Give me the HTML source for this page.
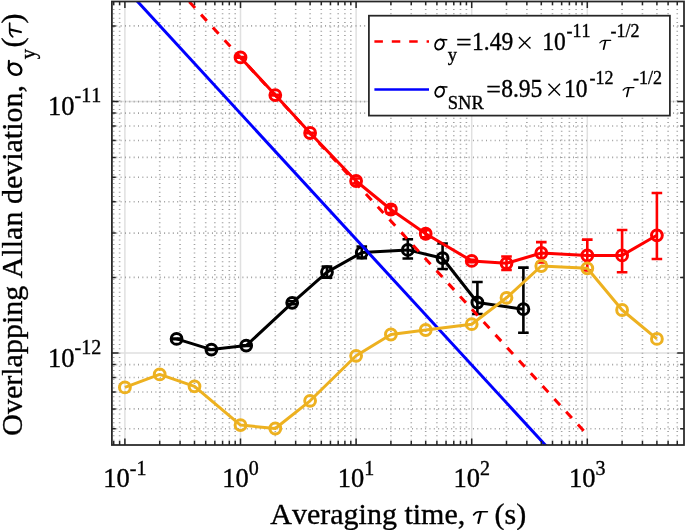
<!DOCTYPE html><html><head><meta charset="utf-8"><style>html,body{margin:0;padding:0;background:#fff;overflow:hidden}svg{display:block;will-change:transform}text{font-family:"Liberation Serif",serif;fill:#000;font-kerning:none;stroke:#000;stroke-width:0.35px}</style></head><body>
<svg width="685" height="530" viewBox="0 0 685 530">
<rect x="0" y="0" width="685" height="530" fill="#fff"/>
<g>
<defs><clipPath id="c"><rect x="111.9" y="1.5" width="572.1" height="443.5"/></clipPath></defs>
<path d="M124.90 1.5V445.0M240.50 1.5V445.0M356.10 1.5V445.0M471.70 1.5V445.0M587.30 1.5V445.0M111.9 101.60H684.0M111.9 353.10H684.0" stroke="#e0e0e0" stroke-width="1.5" fill="none"/>
<path d="M113.70 445.0V1.5M119.61 445.0V1.5M159.70 445.0V1.5M180.06 445.0V1.5M194.50 445.0V1.5M205.70 445.0V1.5M214.85 445.0V1.5M222.59 445.0V1.5M229.30 445.0V1.5M235.21 445.0V1.5M275.30 445.0V1.5M295.66 445.0V1.5M310.10 445.0V1.5M321.30 445.0V1.5M330.45 445.0V1.5M338.19 445.0V1.5M344.90 445.0V1.5M350.81 445.0V1.5M390.90 445.0V1.5M411.26 445.0V1.5M425.70 445.0V1.5M436.90 445.0V1.5M446.05 445.0V1.5M453.79 445.0V1.5M460.50 445.0V1.5M466.41 445.0V1.5M506.50 445.0V1.5M526.86 445.0V1.5M541.30 445.0V1.5M552.50 445.0V1.5M561.65 445.0V1.5M569.39 445.0V1.5M576.10 445.0V1.5M582.01 445.0V1.5M622.10 445.0V1.5M642.46 445.0V1.5M656.90 445.0V1.5M668.10 445.0V1.5M677.25 445.0V1.5" stroke="#a0a0a0" stroke-width="1.6" stroke-dasharray="1 3.35" fill="none"/>
<path d="M111.9 428.81H684.0M111.9 408.89H684.0M111.9 392.06H684.0M111.9 377.47H684.0M111.9 364.61H684.0M111.9 277.39H684.0M111.9 233.10H684.0M111.9 201.68H684.0M111.9 177.31H684.0M111.9 157.39H684.0M111.9 140.56H684.0M111.9 125.97H684.0M111.9 113.11H684.0M111.9 25.89H684.0M111.9 101.60H684.0" stroke="#a0a0a0" stroke-width="1.6" stroke-dasharray="1 3.35" fill="none"/>
<g clip-path="url(#c)">
<path d="M176.59 338.90 L211.39 349.60 L246.19 345.60 L292.19 302.80 L326.99 272.10 L361.79 252.60 L407.79 249.90 L442.59 258.20 L477.39 302.50 L523.39 309.20" stroke="#000000" stroke-width="3.0" fill="none" stroke-linejoin="round"/><path d="M176.59 338.60V339.20M171.29 338.60H181.89M171.29 339.20H181.89M211.39 349.30V349.90M206.09 349.30H216.69M206.09 349.90H216.69M246.19 345.30V345.90M240.89 345.30H251.49M240.89 345.90H251.49M292.19 301.30V304.30M286.89 301.30H297.49M286.89 304.30H297.49M326.99 266.60V277.60M321.69 266.60H332.29M321.69 277.60H332.29M361.79 246.50V258.30M356.49 246.50H367.09M356.49 258.30H367.09M407.79 239.20V258.50M402.49 239.20H413.09M402.49 258.50H413.09M442.59 243.50V269.00M437.29 243.50H447.89M437.29 269.00H447.89M477.39 282.00V314.00M472.09 282.00H482.69M472.09 314.00H482.69M523.39 267.60V332.70M518.09 267.60H528.69M518.09 332.70H528.69" stroke="#000000" stroke-width="2.6" fill="none"/><circle cx="176.59" cy="338.90" r="5.4" stroke="#000000" stroke-width="3.0" fill="none"/><circle cx="211.39" cy="349.60" r="5.4" stroke="#000000" stroke-width="3.0" fill="none"/><circle cx="246.19" cy="345.60" r="5.4" stroke="#000000" stroke-width="3.0" fill="none"/><circle cx="292.19" cy="302.80" r="5.4" stroke="#000000" stroke-width="3.0" fill="none"/><circle cx="326.99" cy="272.10" r="5.4" stroke="#000000" stroke-width="3.0" fill="none"/><circle cx="361.79" cy="252.60" r="5.4" stroke="#000000" stroke-width="3.0" fill="none"/><circle cx="407.79" cy="249.90" r="5.4" stroke="#000000" stroke-width="3.0" fill="none"/><circle cx="442.59" cy="258.20" r="5.4" stroke="#000000" stroke-width="3.0" fill="none"/><circle cx="477.39" cy="302.50" r="5.4" stroke="#000000" stroke-width="3.0" fill="none"/><circle cx="523.39" cy="309.20" r="5.4" stroke="#000000" stroke-width="3.0" fill="none"/>
<path d="M240.50 57.40 L275.30 95.10 L310.10 133.00 L356.10 181.00 L390.90 209.50 L425.70 233.75 L471.70 260.90 L506.50 263.30 L541.30 253.00 L587.30 255.50 L622.10 255.40 L656.90 235.30" stroke="#ff0000" stroke-width="3.0" fill="none" stroke-linejoin="round"/><path d="M240.50 57.10V57.70M235.20 57.10H245.80M235.20 57.70H245.80M275.30 94.80V95.40M270.00 94.80H280.60M270.00 95.40H280.60M310.10 132.70V133.30M304.80 132.70H315.40M304.80 133.30H315.40M356.10 178.50V183.50M350.80 178.50H361.40M350.80 183.50H361.40M390.90 205.90V213.10M385.60 205.90H396.20M385.60 213.10H396.20M425.70 230.25V237.25M420.40 230.25H431.00M420.40 237.25H431.00M471.70 259.70V262.10M466.40 259.70H477.00M466.40 262.10H477.00M506.50 256.50V270.00M501.20 256.50H511.80M501.20 270.00H511.80M541.30 242.10V262.50M536.00 242.10H546.60M536.00 262.50H546.60M587.30 239.60V270.50M582.00 239.60H592.60M582.00 270.50H592.60M622.10 230.00V272.30M616.80 230.00H627.40M616.80 272.30H627.40M656.90 193.00V259.00M651.60 193.00H662.20M651.60 259.00H662.20" stroke="#ff0000" stroke-width="2.6" fill="none"/><circle cx="240.50" cy="57.40" r="5.4" stroke="#ff0000" stroke-width="3.0" fill="none"/><circle cx="275.30" cy="95.10" r="5.4" stroke="#ff0000" stroke-width="3.0" fill="none"/><circle cx="310.10" cy="133.00" r="5.4" stroke="#ff0000" stroke-width="3.0" fill="none"/><circle cx="356.10" cy="181.00" r="5.4" stroke="#ff0000" stroke-width="3.0" fill="none"/><circle cx="390.90" cy="209.50" r="5.4" stroke="#ff0000" stroke-width="3.0" fill="none"/><circle cx="425.70" cy="233.75" r="5.4" stroke="#ff0000" stroke-width="3.0" fill="none"/><circle cx="471.70" cy="260.90" r="5.4" stroke="#ff0000" stroke-width="3.0" fill="none"/><circle cx="506.50" cy="263.30" r="5.4" stroke="#ff0000" stroke-width="3.0" fill="none"/><circle cx="541.30" cy="253.00" r="5.4" stroke="#ff0000" stroke-width="3.0" fill="none"/><circle cx="587.30" cy="255.50" r="5.4" stroke="#ff0000" stroke-width="3.0" fill="none"/><circle cx="622.10" cy="255.40" r="5.4" stroke="#ff0000" stroke-width="3.0" fill="none"/><circle cx="656.90" cy="235.30" r="5.4" stroke="#ff0000" stroke-width="3.0" fill="none"/>
<path d="M165.75 -23.81L587.30 434.75" stroke="#ff0000" stroke-width="3.0" stroke-dasharray="8.5 8.9" fill="none"/>
<path d="M100.00 -39.34L600.00 504.56" stroke="#0000ff" stroke-width="3.0" fill="none"/>
<path d="M124.90 387.40 L159.70 374.40 L194.50 386.30 L240.50 425.10 L275.30 428.50 L310.10 400.80 L356.10 355.80 L390.90 334.50 L425.70 330.00 L471.70 324.20 L506.50 297.80 L541.30 266.00 L587.30 268.30 L622.10 310.00 L656.90 338.90" stroke="#edb120" stroke-width="3.0" fill="none" stroke-linejoin="round"/><circle cx="124.90" cy="387.40" r="5.4" stroke="#edb120" stroke-width="3.0" fill="none"/><circle cx="159.70" cy="374.40" r="5.4" stroke="#edb120" stroke-width="3.0" fill="none"/><circle cx="194.50" cy="386.30" r="5.4" stroke="#edb120" stroke-width="3.0" fill="none"/><circle cx="240.50" cy="425.10" r="5.4" stroke="#edb120" stroke-width="3.0" fill="none"/><circle cx="275.30" cy="428.50" r="5.4" stroke="#edb120" stroke-width="3.0" fill="none"/><circle cx="310.10" cy="400.80" r="5.4" stroke="#edb120" stroke-width="3.0" fill="none"/><circle cx="356.10" cy="355.80" r="5.4" stroke="#edb120" stroke-width="3.0" fill="none"/><circle cx="390.90" cy="334.50" r="5.4" stroke="#edb120" stroke-width="3.0" fill="none"/><circle cx="425.70" cy="330.00" r="5.4" stroke="#edb120" stroke-width="3.0" fill="none"/><circle cx="471.70" cy="324.20" r="5.4" stroke="#edb120" stroke-width="3.0" fill="none"/><circle cx="506.50" cy="297.80" r="5.4" stroke="#edb120" stroke-width="3.0" fill="none"/><circle cx="541.30" cy="266.00" r="5.4" stroke="#edb120" stroke-width="3.0" fill="none"/><circle cx="587.30" cy="268.30" r="5.4" stroke="#edb120" stroke-width="3.0" fill="none"/><circle cx="622.10" cy="310.00" r="5.4" stroke="#edb120" stroke-width="3.0" fill="none"/><circle cx="656.90" cy="338.90" r="5.4" stroke="#edb120" stroke-width="3.0" fill="none"/>
</g>
<path d="M124.90 445.0V438.5M124.90 1.5V8.0M240.50 445.0V438.5M240.50 1.5V8.0M356.10 445.0V438.5M356.10 1.5V8.0M471.70 445.0V438.5M471.70 1.5V8.0M587.30 445.0V438.5M587.30 1.5V8.0M113.70 445.0V441.0M113.70 1.5V5.1M119.61 445.0V441.0M119.61 1.5V5.1M159.70 445.0V441.0M159.70 1.5V5.1M180.06 445.0V441.0M180.06 1.5V5.1M194.50 445.0V441.0M194.50 1.5V5.1M205.70 445.0V441.0M205.70 1.5V5.1M214.85 445.0V441.0M214.85 1.5V5.1M222.59 445.0V441.0M222.59 1.5V5.1M229.30 445.0V441.0M229.30 1.5V5.1M235.21 445.0V441.0M235.21 1.5V5.1M275.30 445.0V441.0M275.30 1.5V5.1M295.66 445.0V441.0M295.66 1.5V5.1M310.10 445.0V441.0M310.10 1.5V5.1M321.30 445.0V441.0M321.30 1.5V5.1M330.45 445.0V441.0M330.45 1.5V5.1M338.19 445.0V441.0M338.19 1.5V5.1M344.90 445.0V441.0M344.90 1.5V5.1M350.81 445.0V441.0M350.81 1.5V5.1M390.90 445.0V441.0M390.90 1.5V5.1M411.26 445.0V441.0M411.26 1.5V5.1M425.70 445.0V441.0M425.70 1.5V5.1M436.90 445.0V441.0M436.90 1.5V5.1M446.05 445.0V441.0M446.05 1.5V5.1M453.79 445.0V441.0M453.79 1.5V5.1M460.50 445.0V441.0M460.50 1.5V5.1M466.41 445.0V441.0M466.41 1.5V5.1M506.50 445.0V441.0M506.50 1.5V5.1M526.86 445.0V441.0M526.86 1.5V5.1M541.30 445.0V441.0M541.30 1.5V5.1M552.50 445.0V441.0M552.50 1.5V5.1M561.65 445.0V441.0M561.65 1.5V5.1M569.39 445.0V441.0M569.39 1.5V5.1M576.10 445.0V441.0M576.10 1.5V5.1M582.01 445.0V441.0M582.01 1.5V5.1M622.10 445.0V441.0M622.10 1.5V5.1M642.46 445.0V441.0M642.46 1.5V5.1M656.90 445.0V441.0M656.90 1.5V5.1M668.10 445.0V441.0M668.10 1.5V5.1M677.25 445.0V441.0M677.25 1.5V5.1M111.9 101.60H118.60000000000001M684.0 101.60H677.3M111.9 353.10H118.60000000000001M684.0 353.10H677.3M111.9 428.81H115.80000000000001M684.0 428.81H680.1M111.9 408.89H115.80000000000001M684.0 408.89H680.1M111.9 392.06H115.80000000000001M684.0 392.06H680.1M111.9 377.47H115.80000000000001M684.0 377.47H680.1M111.9 364.61H115.80000000000001M684.0 364.61H680.1M111.9 277.39H115.80000000000001M684.0 277.39H680.1M111.9 233.10H115.80000000000001M684.0 233.10H680.1M111.9 201.68H115.80000000000001M684.0 201.68H680.1M111.9 177.31H115.80000000000001M684.0 177.31H680.1M111.9 157.39H115.80000000000001M684.0 157.39H680.1M111.9 140.56H115.80000000000001M684.0 140.56H680.1M111.9 125.97H115.80000000000001M684.0 125.97H680.1M111.9 113.11H115.80000000000001M684.0 113.11H680.1M111.9 25.89H115.80000000000001M684.0 25.89H680.1" stroke="#262626" stroke-width="1.5" fill="none"/>
<rect x="111.9" y="1.5" width="572.1" height="443.5" stroke="#262626" stroke-width="1.75" fill="none"/>
<text x="103.32" y="487.4" font-size="26.5" transform="matrix(1 0 0 1.03 0 -14.622)">10</text>
<text x="129.82" y="474.8" font-size="20" transform="matrix(1 0 0 1.08 0 -37.984)">-1</text>
<text x="222.25" y="487.4" font-size="26.5" transform="matrix(1 0 0 1.03 0 -14.622)">10</text>
<text x="248.75" y="474.8" font-size="20" transform="matrix(1 0 0 1.08 0 -37.984)">0</text>
<text x="337.85" y="487.4" font-size="26.5" transform="matrix(1 0 0 1.03 0 -14.622)">10</text>
<text x="364.35" y="474.8" font-size="20" transform="matrix(1 0 0 1.08 0 -37.984)">1</text>
<text x="453.45" y="487.4" font-size="26.5" transform="matrix(1 0 0 1.03 0 -14.622)">10</text>
<text x="479.95" y="474.8" font-size="20" transform="matrix(1 0 0 1.08 0 -37.984)">2</text>
<text x="569.05" y="487.4" font-size="26.5" transform="matrix(1 0 0 1.03 0 -14.622)">10</text>
<text x="595.55" y="474.8" font-size="20" transform="matrix(1 0 0 1.08 0 -37.984)">3</text>
<text x="48.00" y="115.40" font-size="26.5" transform="matrix(1 0 0 1.03 0 -3.462)">10</text>
<text x="74.50" y="102.50" font-size="20" transform="matrix(1 0 0 1.08 0 -8.200)">-11</text>
<text x="48.00" y="366.90" font-size="26.5" transform="matrix(1 0 0 1.03 0 -11.007)">10</text>
<text x="74.50" y="354.00" font-size="20" transform="matrix(1 0 0 1.08 0 -28.320)">-12</text>
<text x="270.31" y="523.90" font-size="30">Averaging time,</text>
<path d="M473.60 514.90C475.10 512.80 476.30 511.75 479.00 511.75L487.40 511.75" stroke="#000" stroke-width="1.65" fill="none" stroke-linecap="round"/><path d="M480.74 512.50L478.34 523.00" stroke="#000" stroke-width="2.16" fill="none" stroke-linecap="round"/>
<text x="494.48" y="523.90" font-size="30">(s)</text>
<g transform="rotate(-90)"><text x="-435.73" y="21.80" font-size="30">Overlapping Allan deviation,</text><ellipse cx="-69.20" cy="15.05" rx="5.25" ry="6.66" transform="rotate(28 -69.20 15.05)" stroke="#000" stroke-width="2.40" fill="none"/><path d="M-68.30 8.69L-60.80 8.90" stroke="#000" stroke-width="1.98" fill="none" stroke-linecap="round"/><text x="-59.15" y="35.00" font-size="22" textLength="10.33" lengthAdjust="spacingAndGlyphs">y</text><text x="-47.52" y="21.80" font-size="30">(</text><path d="M-36.80 12.80C-35.30 10.70 -34.10 9.65 -31.40 9.65L-23.00 9.65" stroke="#000" stroke-width="1.65" fill="none" stroke-linecap="round"/><path d="M-29.66 10.40L-32.06 20.90" stroke="#000" stroke-width="2.16" fill="none" stroke-linecap="round"/><text x="-23.57" y="21.80" font-size="30">)</text></g>
<rect x="368.9" y="15.7" width="301" height="99.9" fill="#fff" stroke="#262626" stroke-width="1.75"/>
<path d="M374.4 41.55H429" stroke="#ff0000" stroke-width="2.5" stroke-dasharray="8.5 8.9"/>
<path d="M374.4 89.45H429" stroke="#0000ff" stroke-width="2.5"/>
<ellipse cx="439.47" cy="44.51" rx="4.11" ry="5.22" transform="rotate(28 439.47 44.51)" stroke="#000" stroke-width="1.88" fill="none"/><path d="M440.18 39.53L446.75 39.69" stroke="#000" stroke-width="1.55" fill="none" stroke-linecap="round"/>
<text x="447.67" y="61.00" font-size="18.5">y</text>
<text x="456.02" y="49.80" font-size="23.5" textLength="15.63" lengthAdjust="spacingAndGlyphs">=</text>
<text x="472.13" y="49.80" font-size="23.5" transform="matrix(1 0 0 1.05 0 -2.490)">1.49</text>
<path d="M518.90 36.90L530.50 48.50M518.90 48.50L530.50 36.90" stroke="#000" stroke-width="1.35"/>
<text x="542.23" y="49.80" font-size="23.5" transform="matrix(1 0 0 1.05 0 -2.490)">10</text>
<text x="566.43" y="37.50" font-size="18" transform="matrix(1 0 0 1.05 0 -1.875)">-11</text>
<path d="M599.90 42.75C601.07 41.10 602.01 40.28 604.13 40.28L610.71 40.28" stroke="#000" stroke-width="1.29" fill="none" stroke-linecap="round"/><path d="M605.49 40.87L603.61 49.09" stroke="#000" stroke-width="1.69" fill="none" stroke-linecap="round"/>
<text x="610.43" y="37.50" font-size="18" transform="matrix(1 0 0 1.05 0 -1.875)">-1/2</text>
<ellipse cx="439.67" cy="91.81" rx="4.11" ry="5.22" transform="rotate(28 439.67 91.81)" stroke="#000" stroke-width="1.88" fill="none"/><path d="M440.38 86.83L446.95 86.99" stroke="#000" stroke-width="1.55" fill="none" stroke-linecap="round"/>
<text x="447.76" y="108.60" font-size="18.5">SNR</text>
<text x="486.20" y="97.10" font-size="23.5" textLength="14.66" lengthAdjust="spacingAndGlyphs">=</text>
<text x="501.20" y="97.10" font-size="23.5" transform="matrix(1 0 0 1.05 0 -4.855)">8.95</text>
<path d="M548.45 83.80L560.05 95.40M548.45 95.40L560.05 83.80" stroke="#000" stroke-width="1.35"/>
<text x="563.93" y="97.10" font-size="23.5" transform="matrix(1 0 0 1.05 0 -4.855)">10</text>
<text x="589.53" y="84.00" font-size="18" transform="matrix(1 0 0 1.05 0 -4.200)">-12</text>
<path d="M623.10 90.05C624.27 88.41 625.22 87.58 627.33 87.58L633.91 87.58" stroke="#000" stroke-width="1.29" fill="none" stroke-linecap="round"/><path d="M628.69 88.17L626.81 96.39" stroke="#000" stroke-width="1.69" fill="none" stroke-linecap="round"/>
<text x="632.93" y="84.00" font-size="18" transform="matrix(1 0 0 1.05 0 -4.200)">-1/2</text>
</g></svg></body></html>
